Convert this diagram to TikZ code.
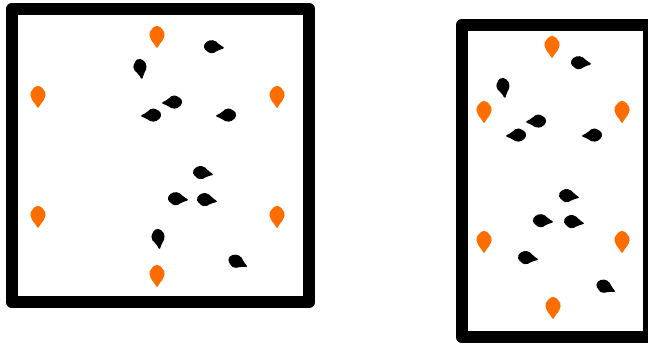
\documentclass[tikz,border=0pt]{standalone}
\usepackage{tikz}
\definecolor{beaconorange}{RGB}{255,108,0}
\tikzset{
  frame/.style={draw=black, line width=12.5pt, line join=round},
  beacon/.pic={\fill[beaconorange, rounded corners=1.5pt] (-2,-11) -- (2,-11) -- (6,-7) -- (8,-3) -- (6,3) -- (2,8) -- (0,12) -- (-2,8) -- (-6,3) -- (-8,-3) -- (-6,-7) -- cycle;},
  fish/.pic={\fill[black, rounded corners=2pt] (-10,0) -- (-6,-6) -- (1,-7) -- (6,-3) -- (12,0) -- (5,3) -- (0,7) -- (-6,5) -- cycle;}
}
\begin{document}
\begin{tikzpicture}[x=1pt, y=-1pt]
  \useasboundingbox (0,0) rectangle (648,344);
  \clip (0,0) rectangle (648,344);
  \draw[frame] (12,9) rectangle (309,302);
  \pic at (157,37) {beacon};
  \pic at (38,97) {beacon};
  \pic at (277,97) {beacon};
  \pic at (38,217) {beacon};
  \pic at (277,217) {beacon};
  \pic at (157,276) {beacon};
  \pic[rotate=-5] at (213,47) {fish};
  \pic[rotate=-80] at (140,68) {fish};
  \pic[rotate=185] at (173,102) {fish};
  \pic[rotate=185] at (152,115) {fish};
  \pic[rotate=185] at (227,115) {fish};
  \pic[rotate=-8] at (202,173) {fish};
  \pic[rotate=-5] at (177,199) {fish};
  \pic[rotate=-8] at (206,200) {fish};
  \pic[rotate=-82] at (158,238) {fish};
  \pic[rotate=-25] at (237,262) {fish};
  \draw[frame] (462,25) rectangle (649,337);
  \pic at (552,47) {beacon};
  \pic at (484,112) {beacon};
  \pic at (622,112) {beacon};
  \pic at (484,242) {beacon};
  \pic at (622,242) {beacon};
  \pic at (553,308) {beacon};
  \pic[rotate=-5] at (580,63) {fish};
  \pic[rotate=-80] at (503,87) {fish};
  \pic[rotate=185] at (537,121) {fish};
  \pic[rotate=185] at (517,135) {fish};
  \pic[rotate=185] at (593,135) {fish};
  \pic[rotate=-8] at (568,196) {fish};
  \pic[rotate=-5] at (542,221) {fish};
  \pic[rotate=-8] at (573,222) {fish};
  \pic[rotate=-8] at (527,258) {fish};
  \pic[rotate=-25] at (605,287) {fish};
\end{tikzpicture}
\end{document}
